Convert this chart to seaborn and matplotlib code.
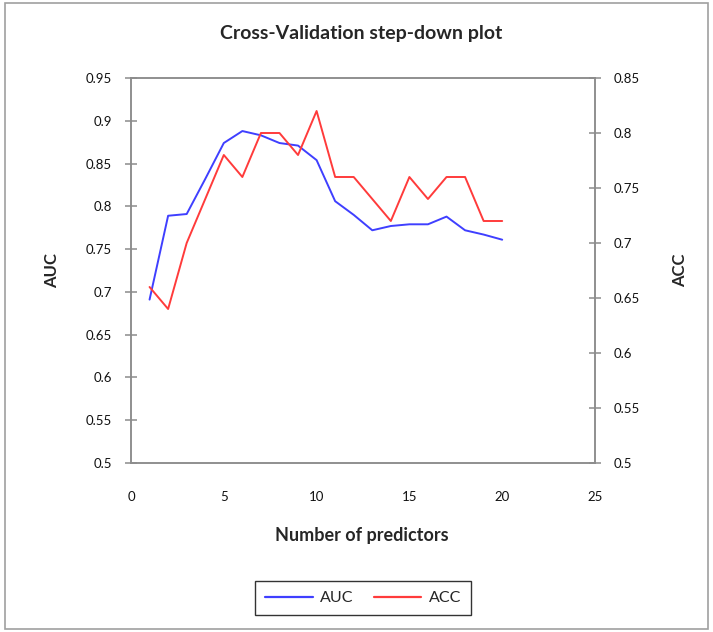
import numpy as np
import pandas as pd
import matplotlib
matplotlib.use('Agg')
import matplotlib.pyplot as plt
import seaborn as sns
from matplotlib.lines import Line2D
from matplotlib.patches import Rectangle

# Datos
n_predictors = [1, 2, 3, 4, 5, 6, 7, 8, 9, 10, 11, 12, 13, 14, 15, 16, 17, 18, 19, 20]
auc_values = [0.691, 0.789, 0.791, 0.832, 0.874, 0.888, 0.883, 0.874, 0.871, 0.854,
              0.806, 0.790, 0.772, 0.777, 0.779, 0.779, 0.788, 0.772, 0.767, 0.761]
acc_values = [0.66, 0.64, 0.70, 0.74, 0.78, 0.76, 0.80, 0.80, 0.78, 0.82,
              0.76, 0.76, 0.74, 0.72, 0.76, 0.74, 0.76, 0.76, 0.72, 0.72]

x_ticks = [0, 5, 10, 15, 20, 25]
auc_ticks = [0.5, 0.55, 0.6, 0.65, 0.7, 0.75, 0.8, 0.85, 0.9, 0.95]
acc_ticks = [0.5, 0.55, 0.6, 0.65, 0.7, 0.75, 0.8, 0.85]

df = pd.DataFrame({'n': n_predictors, 'AUC': auc_values, 'ACC': acc_values})

sns.set_style('white')
plt.rcParams['font.family'] = ['Lato', 'DejaVu Sans']

gray = '#8c8c8c'
blue = '#3f3fff'
red = '#ff3b3b'

fig = plt.figure(figsize=(7.13, 6.32), dpi=100)
ax = fig.add_axes([131 / 713, 1 - 463 / 632, 464 / 713, 385 / 632])
ax2 = ax.twinx()

sns.lineplot(data=df, x='n', y='AUC', ax=ax, color=blue, linewidth=1.4, legend=False)
sns.lineplot(data=df, x='n', y='ACC', ax=ax2, color=red, linewidth=1.4, legend=False)

ax.set_xlim(0, 25)
ax.set_ylim(0.5, 0.95)
ax2.set_ylim(0.5, 0.85)

ax.set_xticks(x_ticks)
ax.set_xticklabels([str(t) for t in x_ticks])
ax.set_yticks(auc_ticks)
ax.set_yticklabels([f'{t:g}' for t in auc_ticks])
ax2.set_yticks(acc_ticks)
ax2.set_yticklabels([f'{t:g}' for t in acc_ticks])

for a in (ax, ax2):
    for s in a.spines.values():
        s.set_color(gray)
        s.set_linewidth(1.1)
    a.set_xlabel('')
    a.set_ylabel('')

ax.tick_params(axis='x', length=0, pad=20, labelsize=9.5, colors='#111111')
ax.tick_params(axis='y', direction='inout', length=9, width=1.1, color=gray,
               pad=9, labelsize=9.5, labelcolor='#111111', left=True)
ax2.tick_params(axis='y', direction='inout', length=9, width=1.1, color=gray,
                pad=9, labelsize=9.5, labelcolor='#111111', right=True)

fig.text(361 / 713, 1 - 33 / 632, 'Cross-Validation step-down plot',
         ha='center', va='center', fontsize=14, fontweight='bold')
fig.text(362 / 713, 1 - 535 / 632, 'Number of predictors',
         ha='center', va='center', fontsize=13, fontweight='bold')
fig.text(52 / 713, 1 - 270 / 632, 'AUC', rotation=90,
         ha='center', va='center', fontsize=12, fontweight='bold')
fig.text(680 / 713, 1 - 270 / 632, 'ACC', rotation=90,
         ha='center', va='center', fontsize=12, fontweight='bold')

handles = [Line2D([], [], color=blue, linewidth=1.6),
           Line2D([], [], color=red, linewidth=1.6)]
leg = fig.legend(handles, ['AUC', 'ACC'], loc='center', ncol=2,
                 bbox_to_anchor=(363 / 713, 1 - 598 / 632), fontsize=11.5,
                 frameon=True, fancybox=False, handlelength=3.0,
                 handletextpad=0.45, columnspacing=1.25, borderpad=0.6)
leg.get_frame().set_edgecolor('black')
leg.get_frame().set_linewidth(1.0)

# Borde del area del grafico
fig.patches.append(Rectangle((5 / 713, 3 / 632), 703 / 713, 626 / 632,
                             transform=fig.transFigure, fill=False,
                             edgecolor='#a0a0a0', linewidth=1.2))

fig.savefig('out.png', dpi=100)
